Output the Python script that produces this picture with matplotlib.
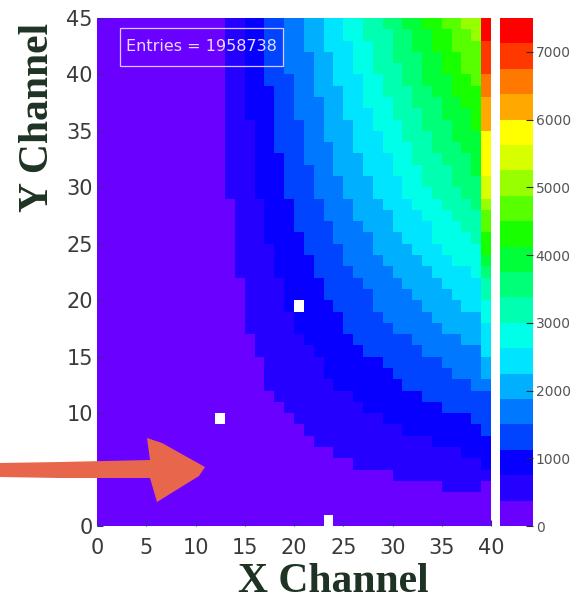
import numpy as np
import matplotlib
matplotlib.use('Agg')
import matplotlib.pyplot as plt
from matplotlib.colors import ListedColormap, BoundaryNorm
from matplotlib.patches import Rectangle, Polygon

n_x, n_y = 40, 45
level_step = 375
entries = 1958738

# x bin where each next colour level begins, one list per y row (top row first)
level_starts = [
    [13, 15, 17, 19, 21, 23, 25, 27, 29, 31, 33, 35, 37],      # 44
    [13, 15, 17, 19, 21, 23, 25, 27, 30, 32, 34, 36, 38],      # 43
    [13, 15, 17, 19, 21, 23, 26, 28, 30, 32, 34, 36],          # 42
    [13, 15, 17, 19, 22, 24, 26, 28, 30, 33, 35, 37],          # 41
    [13, 15, 17, 19, 22, 24, 26, 28, 31, 33, 35, 37],          # 40
    [13, 15, 17, 20, 22, 24, 27, 29, 31, 33, 36, 38],          # 39
    [13, 15, 18, 20, 22, 25, 27, 29, 32, 34, 36],              # 38
    [13, 15, 18, 20, 23, 25, 27, 30, 32, 35, 37],              # 37
    [13, 15, 18, 20, 23, 25, 28, 30, 33, 35, 38],              # 36
    [13, 16, 18, 21, 23, 26, 28, 31, 33, 36, 38],              # 35
    [13, 16, 18, 21, 23, 26, 29, 31, 34, 36],                  # 34
    [13, 16, 18, 21, 24, 26, 29, 32, 34, 37],                  # 33
    [13, 16, 19, 21, 24, 27, 30, 32, 35, 38],                  # 32
    [13, 16, 19, 22, 24, 27, 30, 33, 36, 38],                  # 31
    [13, 16, 19, 22, 25, 28, 31, 33, 36],                      # 30
    [13, 16, 19, 22, 25, 28, 31, 34, 37],                      # 29
    [14, 17, 20, 23, 26, 29, 32, 35, 38],                      # 28
    [14, 17, 20, 23, 26, 30, 33, 36],                          # 27
    [14, 17, 20, 24, 27, 30, 34, 37],                          # 26
    [14, 17, 21, 24, 28, 31, 34, 38],                          # 25
    [14, 18, 21, 25, 28, 32, 35],                              # 24
    [14, 18, 22, 25, 29, 33, 36],                              # 23
    [14, 18, 22, 26, 30, 34, 38],                              # 22
    [15, 19, 23, 27, 31, 35],                                  # 21
    [15, 19, 23, 28, 32, 36],                                  # 20
    [15, 19, 24, 28, 33, 37],                                  # 19
    [15, 20, 25, 29, 34],                                      # 18
    [15, 20, 25, 30, 35],                                      # 17
    [16, 21, 26, 32, 37],                                      # 16
    [16, 22, 27, 33],                                          # 15
    [17, 23, 29, 35],                                          # 14
    [17, 23, 30, 36],                                          # 13
    [17, 24, 31, 38],                                          # 12
    [18, 26, 33],                                              # 11
    [19, 27, 35],                                              # 10
    [20, 29, 38],                                              # 9
    [21, 31],                                                  # 8
    [22, 34],                                                  # 7
    [24, 37],                                                  # 6
    [26],                                                      # 5
    [30],                                                      # 4
    [35],                                                      # 3
    [], [], [],                                                # 2..0
]

# last x bin (39) runs hotter than its neighbours, top row first
edge_levels = [19, 19, 18, 18, 18, 17, 17, 16, 16, 16, 15, 15, 15, 15, 14,
               14, 13, 12, 12, 11, 11, 10, 9, 8, 8, 7, 7, 6, 6, 6,
               5, 5, 4, 3, 3, 3, 3, 2, 2, 2, 1, 0, 0, 0, 0]

# channels with no counts
dead_bins = [(20, 19), (12, 9), (23, 0)]

palette = ['#6a00ff', '#2600ff', '#0800ff', '#0044ff', '#0078ff',
           '#00b0ff', '#00e4ff', '#00ffe8', '#00ffb0', '#00ff78',
           '#00ff38', '#18ff00', '#58ff00', '#98ff00', '#d8ff00',
           '#ffff00', '#ffa800', '#ff7800', '#ff3800', '#ff0000']

counts = np.zeros((n_y, n_x))
for row, starts in enumerate(level_starts):
    j = n_y - 1 - row
    for i in range(n_x - 1):
        lev = sum(1 for s in starts if i >= s)
        counts[j, i] = (lev + 0.5) * level_step
    counts[j, n_x - 1] = (edge_levels[row] + 0.5) * level_step
for i, j in dead_bins:
    counts[j, i] = np.nan
counts = np.ma.masked_invalid(counts)

W, H = 573, 605
fig = plt.figure(figsize=(W / 100, H / 100), dpi=100)
fig.patch.set_facecolor('white')

ax = fig.add_axes([97 / W, 1 - 526 / H, 394 / W, 508 / H])
cax = fig.add_axes([500 / W, 1 - 526 / H, 33 / W, 508 / H])

cmap = ListedColormap(palette)
cmap.set_bad('white')
bounds = np.arange(0, level_step * len(palette) + 1, level_step)
norm = BoundaryNorm(bounds, cmap.N)

mesh = ax.pcolormesh(np.arange(n_x + 1), np.arange(n_y + 1), counts,
                     cmap=cmap, norm=norm)
ax.set_xlim(0, n_x)
ax.set_ylim(0, n_y)
ax.set_xticks(np.arange(0, 41, 5))
ax.set_yticks(np.arange(0, 46, 5))
ax.tick_params(direction='in', length=4, width=0.8, color='#30308a',
               labelsize=15, labelcolor='#3a3a3a')
ax.tick_params(axis='x', pad=9)
ax.tick_params(axis='y', pad=3)
for sp in ax.spines.values():
    sp.set_visible(False)

# stats box
ax.add_patch(Rectangle((0.058, 0.906), 0.414, 0.074, transform=ax.transAxes,
                       fill=False, edgecolor='#d9c8ff', linewidth=0.9))
ax.text(0.265, 0.943, 'Entries = %d' % entries, transform=ax.transAxes,
        ha='center', va='center', fontsize=11.5, color='#e6dcff',
        family='DejaVu Sans')

cb = fig.colorbar(mesh, cax=cax, ticks=np.arange(0, 7001, 1000))
cb.minorticks_off()
cb.outline.set_visible(False)
cax.tick_params(direction='in', length=5, width=0.8, color='#2a2a2a',
                labelsize=10, labelcolor='#555555', pad=2)

lab = dict(family='Liberation Serif', fontweight='bold', fontsize=30,
           color='#1e3324')
fig.text(333 / W, 1 - 582 / H, 'X Channel', ha='center', va='center', **lab)
fig.text(38 / W, 1 - 117 / H, 'Y Channel', ha='center', va='center',
         rotation=90, **lab)

# hand drawn pointer on the left
pts = [(0, 463), (60, 462), (150, 460), (147, 438), (162, 443), (205, 467),
       (199, 476), (157, 502), (150, 478), (60, 478), (0, 477)]
arrow = Polygon([(x / W, 1 - y / H) for x, y in pts], closed=True,
                transform=fig.transFigure, facecolor='#e8664c',
                edgecolor='none', zorder=10)
fig.patches.append(arrow)

fig.savefig('out.png', dpi=100)
